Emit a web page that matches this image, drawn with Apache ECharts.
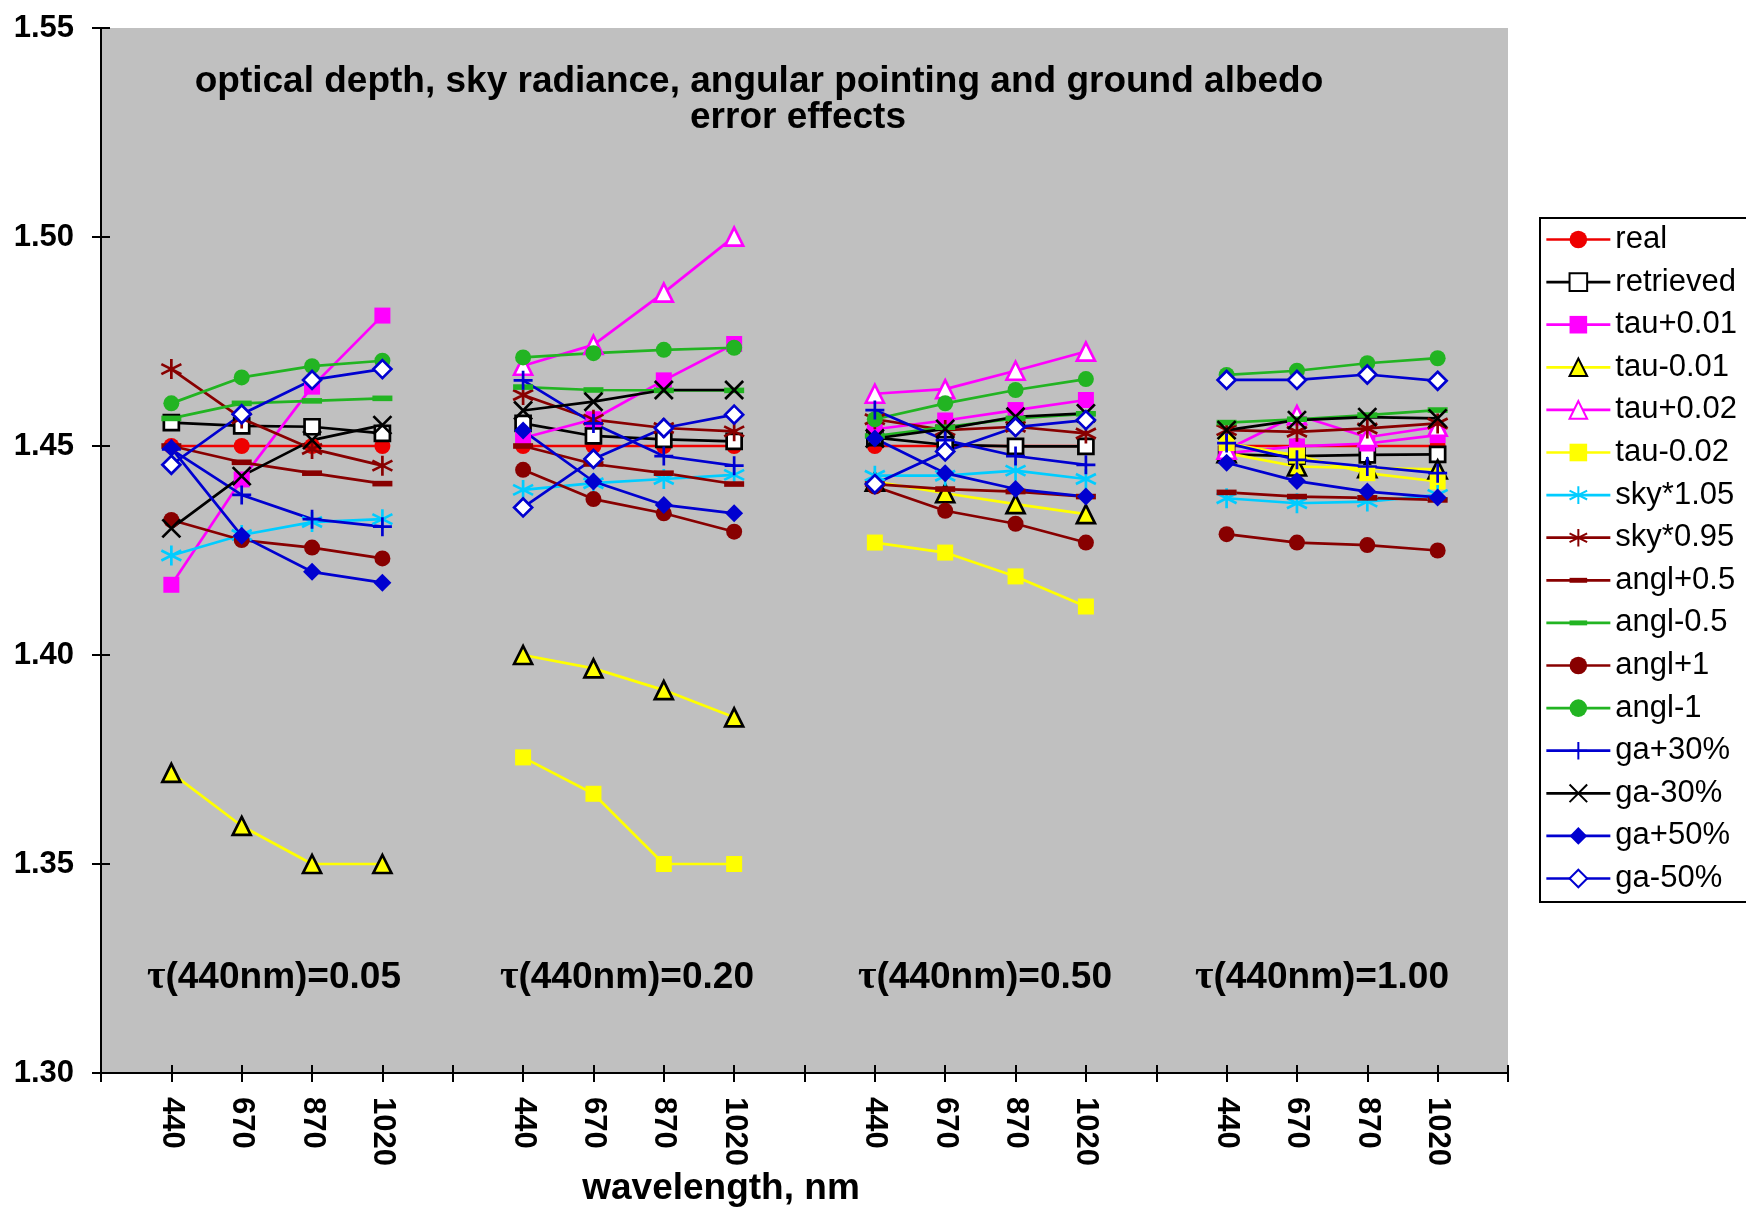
<!DOCTYPE html>
<html>
<head>
<meta charset="utf-8">
<script src="https://cdn.jsdelivr.net/npm/echarts@6/dist/echarts.min.js"></script>
<style>
  html, body { margin: 0; padding: 0; background: #fff; }
  #chart { width: 1746px; height: 1211px; }
</style>
</head>
<body>
<div id="chart"></div>
<script>
// wavelengths in each optical-depth group, groups separated by an empty slot
const wavelengths = ['440', '670', '870', '1020'];
const groupLabels = ['0.05', '0.20', '0.50', '1.00'];
const yTicks = [1.30, 1.35, 1.40, 1.45, 1.50, 1.55];

// refractive index values, one row per group (tau = 0.05, 0.20, 0.50, 1.00)
const real = [[1.450, 1.450, 1.450, 1.450], [1.450, 1.450, 1.450, 1.450], [1.450, 1.450, 1.450, 1.450], [1.450, 1.450, 1.450, 1.450]];
const retrieved = [[1.4556, 1.4548, 1.4546, 1.4530], [1.4554, 1.4524, 1.4516, 1.4511], [1.4520, 1.4503, 1.4499, 1.4499], [1.4480, 1.4476, 1.4479, 1.4480]];
const tauP001 = [[1.4168, 1.4420, 1.4642, 1.4812], [1.4519, 1.4564, 1.4657, 1.4744], [1.4540, 1.4561, 1.4586, 1.4610], [1.4483, 1.4499, 1.4506, 1.4526]];
const tauM001 = [[1.3718, 1.3591, 1.3500, 1.3500], [1.4000, 1.3968, 1.3916, 1.3851], [1.4415, 1.4387, 1.4361, 1.4337], [1.4483, 1.4451, 1.4447, 1.4444]];
const tauP002 = [[null, null, null, null], [1.4692, 1.4742, 1.4867, 1.5001], [1.4625, 1.4636, 1.4680, 1.4726], [1.4491, 1.4574, 1.4521, 1.4546]];
const tauM002 = [[null, null, null, null], [1.3755, 1.3668, 1.3500, 1.3500], [1.4269, 1.4245, 1.4188, 1.4116], [1.4507, 1.4477, 1.4435, 1.4415]];
const skyP105 = [[1.4238, 1.4287, 1.4318, 1.4325], [1.4395, 1.4411, 1.4421, 1.4431], [1.4429, 1.4429, 1.4441, 1.4421], [1.4375, 1.4363, 1.4367, 1.4383]];
const skyP095 = [[1.4684, 1.4566, 1.4493, 1.4453], [1.4622, 1.4563, 1.4543, 1.4535], [1.4564, 1.4538, 1.4546, 1.4530], [1.4538, 1.4534, 1.4542, 1.4554]];
const anglP05 = [[1.4500, 1.4461, 1.4435, 1.4410], [1.4500, 1.4457, 1.4435, 1.4409], [1.4409, 1.4397, 1.4391, 1.4379], [1.4389, 1.4379, 1.4376, 1.4371]];
const anglM05 = [[1.4566, 1.4602, 1.4608, 1.4614], [1.4641, 1.4634, 1.4633, 1.4633], [1.4524, 1.4545, 1.4566, 1.4577], [1.4556, 1.4564, 1.4574, 1.4586]];
const anglP1 = [[1.4323, 1.4275, 1.4257, 1.4231], [1.4443, 1.4373, 1.4339, 1.4295], [1.4403, 1.4345, 1.4314, 1.4269], [1.4289, 1.4269, 1.4263, 1.4250]];
const anglM1 = [[1.4602, 1.4664, 1.4691, 1.4704], [1.4712, 1.4722, 1.4730, 1.4735], [1.4564, 1.4602, 1.4634, 1.4660], [1.4670, 1.4680, 1.4698, 1.4710]];
const gaP30 = [[1.4492, 1.4383, 1.4325, 1.4307], [1.4657, 1.4554, 1.4476, 1.4453], [1.4586, 1.4514, 1.4476, 1.4455], [1.4507, 1.4467, 1.4451, 1.4435]];
const gaM30 = [[1.4303, 1.4428, 1.4514, 1.4550], [1.4585, 1.4606, 1.4634, 1.4634], [1.4518, 1.4541, 1.4570, 1.4578], [1.4538, 1.4562, 1.4569, 1.4566]];
const gaP50 = [[1.4495, 1.4285, 1.4199, 1.4173], [1.4537, 1.4415, 1.4359, 1.4339], [1.4518, 1.4435, 1.4397, 1.4379], [1.4460, 1.4416, 1.4391, 1.4377]];
const gaM50 = [[1.4455, 1.4576, 1.4658, 1.4684], [1.4353, 1.4469, 1.4543, 1.4575], [1.4409, 1.4487, 1.4545, 1.4562], [1.4658, 1.4658, 1.4671, 1.4656]];

const FONT = "'Liberation Sans', Arial, sans-serif";

// category slots: '', 440..1020, '', 440..1020, ... , ''
const categories = [''];
groupLabels.forEach(() => { categories.push(...wavelengths, ''); });

function toSlots(rows) {
  const out = new Array(categories.length).fill(null);
  rows.forEach((row, g) => row.forEach((v, i) => { out[1 + g * 5 + i] = v; }));
  return out;
}

const P_PLUS = 'path://M5,0 L5,10 M0,5 L10,5';
const P_CROSS = 'path://M0,0 L10,10 M0,10 L10,0';
const P_STAR = 'path://M5,0 L5,10 M0.67,2.5 L9.33,7.5 M0.67,7.5 L9.33,2.5';
// short thick bar inside a square box, so the legend icon keeps its shape
const P_DASH = 'path://M0,0 L0,0 M0,3.6 L10,3.6 L10,6.4 L0,6.4 Z M10,10 L10,10';

const RED = '#ee0000', BLACK = '#000000', MAG = '#ff00ff', YEL = '#ffff00',
  CYAN = '#00ccff', DRED = '#880000', GREEN = '#22b422', BLUE = '#0000d0';

function line(name, rows, color, symbol, size, item) {
  return {
    name, type: 'line', data: toSlots(rows),
    symbol, symbolSize: size,
    connectNulls: false,
    animation: false,
    lineStyle: { color, width: 2.7 },
    itemStyle: Object.assign({ color, borderColor: color, borderWidth: 0 }, item || {}),
    emphasis: { disabled: true }
  };
}
const stroke = (c) => ({ color: c, borderColor: c, borderWidth: 2.7 });
const open = (c) => ({ color: '#ffffff', borderColor: c, borderWidth: 2.7 });

const series = [
  line('real', real, RED, 'circle', 16),
  line('retrieved', retrieved, BLACK, 'rect', 15, open(BLACK)),
  line('tau+0.01', tauP001, MAG, 'rect', 16),
  line('tau-0.01', tauM001, YEL, 'triangle', 18, { color: YEL, borderColor: BLACK, borderWidth: 2.7 }),
  line('tau+0.02', tauP002, MAG, 'triangle', 18, open(MAG)),
  line('tau-0.02', tauM002, YEL, 'rect', 16),
  line('sky*1.05', skyP105, CYAN, P_STAR, 20, stroke(CYAN)),
  line('sky*0.95', skyP095, DRED, P_STAR, 20, stroke(DRED)),
  line('angl+0.5', anglP05, DRED, P_DASH, 20),
  line('angl-0.5', anglM05, GREEN, P_DASH, 20),
  line('angl+1', anglP1, DRED, 'circle', 16),
  line('angl-1', anglM1, GREEN, 'circle', 16),
  line('ga+30%', gaP30, BLUE, P_PLUS, 19, stroke(BLUE)),
  line('ga-30%', gaM30, BLACK, P_CROSS, 18, stroke(BLACK)),
  line('ga+50%', gaP50, BLUE, 'diamond', 18),
  line('ga-50%', gaM50, BLUE, 'diamond', 18, open(BLUE))
];

const chart = echarts.init(document.getElementById('chart'), null, { renderer: 'canvas' });
const grid = { left: 101, top: 28, width: 1407, height: 1045 };
const bigText = (text, x, y) => ({
  type: 'text', x, y,
  style: { text, fontSize: 37, fontWeight: 'bold', fontFamily: FONT, fill: '#000', align: 'center', verticalAlign: 'middle' }
});
const option = {
  backgroundColor: '#ffffff',
  animation: false,
  textStyle: { fontFamily: FONT },
  grid: Object.assign({ show: true, backgroundColor: '#c0c0c0', borderWidth: 0, containLabel: false }, grid),
  xAxis: [{
    type: 'category', data: categories, boundaryGap: false,
    axisLine: { lineStyle: { color: '#000', width: 2 } },
    axisTick: { interval: 0, length: 9, lineStyle: { color: '#000', width: 2 } },
    axisLabel: { interval: 0, rotate: -90, margin: 24, color: '#000', fontSize: 31, fontWeight: 'bold', fontFamily: FONT },
    splitLine: { show: false }
  }, {
    type: 'category', data: categories, boundaryGap: false, position: 'bottom',
    axisLine: { show: false },
    axisTick: { interval: 0, inside: true, length: 8, lineStyle: { color: '#000', width: 2 } },
    axisLabel: { show: false }, splitLine: { show: false }
  }],
  yAxis: [{
    type: 'value', min: yTicks[0], max: yTicks[yTicks.length - 1], interval: 0.05,
    axisLine: { show: true, lineStyle: { color: '#000', width: 2 } },
    axisTick: { show: true, length: 9, lineStyle: { color: '#000', width: 2 } },
    axisLabel: { margin: 27, color: '#000', fontSize: 31, fontWeight: 'bold', fontFamily: FONT, formatter: (v) => v.toFixed(2) },
    splitLine: { show: false }
  }, {
    type: 'value', min: yTicks[0], max: yTicks[yTicks.length - 1], interval: 0.05, position: 'left',
    axisLine: { show: false },
    axisTick: { show: true, inside: true, length: 9, lineStyle: { color: '#000', width: 2 } },
    axisLabel: { show: false }, splitLine: { show: false }
  }],
  legend: {
    orient: 'vertical', left: 1540, top: 218,
    padding: [6, 80, 8, 5],
    borderColor: '#000', borderWidth: 2, backgroundColor: '#fff',
    itemWidth: 64, itemHeight: 22, itemGap: 11.6,
    lineStyle: { width: 2.7 },
    textStyle: { fontSize: 31, lineHeight: 28, color: '#000', fontFamily: FONT },
    data: series.map(s => s.name)
  },
  graphic: [
    bigText('optical depth, sky radiance, angular pointing and ground albedo', 759, 82),
    bigText('error effects', 798, 118),
    bigText('wavelength, nm', 721, 1189)
  ].concat(groupLabels.map((g, k) => ({
    type: 'text', x: [274, 627, 985, 1322][k], y: 978,
    style: {
      text: '{t|τ}(440nm)=' + g,
      rich: { t: { fontFamily: "'Liberation Serif', serif", fontSize: 40, fontWeight: 'bold', fill: '#000' } },
      fontSize: 37, fontWeight: 'bold', fontFamily: FONT, fill: '#000', align: 'center', verticalAlign: 'middle'
    }
  }))),
  series: series.map(s => Object.assign(s, { xAxisIndex: 0, yAxisIndex: 0 }))
};
chart.setOption(option);
</script>
</body>
</html>
